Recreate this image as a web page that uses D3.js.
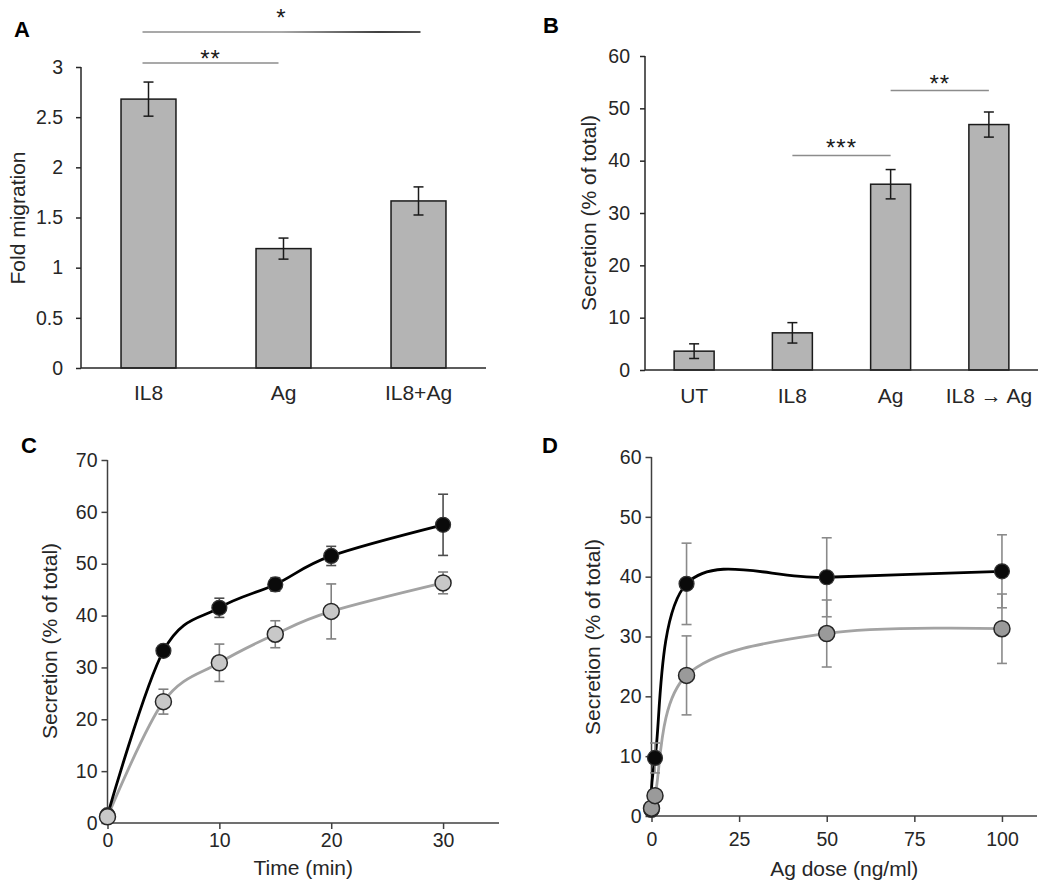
<!DOCTYPE html>
<html><head><meta charset="utf-8">
<script src="https://cdn.jsdelivr.net/npm/d3@7"></script>
<style>
body{margin:0;background:#fff}
svg{display:block}
text{font-family:"Liberation Sans",Arial,Helvetica,sans-serif;fill:#262626}
</style>
</head><body>
<svg id="chart" width="1050" height="895"></svg>
<script>
// ---------- DATA ----------
// Panel A
const catsA = ["IL8", "Ag", "IL8+Ag"];
const valsA = [2.68, 1.19, 1.665];
const errA = [0.17, 0.105, 0.14];
const yTicksA = [0, 0.5, 1, 1.5, 2, 2.5, 3];
const sigA = [
  {from: "IL8", to: "Ag", y: 3.04, label: "**"},
  {from: "IL8", to: "IL8+Ag", y: 3.35, label: "*"}
];
// Panel B
const catsB = ["UT", "IL8", "Ag", "IL8 \u2192 Ag"];
const valsB = [3.6, 7.1, 35.5, 46.9];
const errB = [1.4, 1.95, 2.8, 2.4];
const yTicksB = [0, 10, 20, 30, 40, 50, 60];
const sigB = [
  {from: "IL8", to: "Ag", y: 41, label: "***"},
  {from: "Ag", to: "IL8 \u2192 Ag", y: 53.4, label: "**"}
];
// Panel C
const timeC = [0, 5, 10, 15, 20, 30];
const blackC = [1.5, 33.2, 41.5, 46.0, 51.5, 57.5];
const blackCErr = [0.5, 0.6, 1.85, 1.3, 1.85, 5.9];
const grayC = [1.2, 23.4, 30.9, 36.4, 40.8, 46.3];
const grayCErr = [0.5, 2.4, 3.6, 2.6, 5.3, 2.1];
const xTicksC = [0, 10, 20, 30];
const yTicksC = [0, 10, 20, 30, 40, 50, 60, 70];
// Panel D
const doseD = [0, 1, 10, 50, 100];
const blackD = [1.0, 9.7, 38.8, 39.9, 40.9];
const blackDErr = [0.3, 2.5, 6.8, 6.6, 6.1];
const grayD = [1.3, 3.4, 23.5, 30.5, 31.3];
const grayDErr = [0.3, 0.5, 6.6, 5.6, 5.8];
const xTicksD = [0, 25, 50, 75, 100];
const yTicksD = [0, 10, 20, 30, 40, 50, 60];

// ---------- LAYOUT ----------
const svg = d3.select("#chart");
const AXIS = "#262626";
const TICKFONT = 19.5, CATFONT = 21, TITLEFONT = 21;

const defs = svg.append("defs");

function styleAxis(sel, color, fs) {
  sel.select(".domain").remove();
  sel.selectAll(".tick line").attr("stroke", color).attr("stroke-width", 1.5);
  sel.selectAll(".tick text").attr("font-size", fs).style("fill", "#262626");
}

function panelLetter(txt, x, y) {
  svg.append("text").attr("x", x).attr("y", y).attr("font-size", 22)
    .attr("font-weight", "bold").style("fill", "#000").text(txt);
}

function yTitle(txt, x, cy) {
  svg.append("text").attr("transform", `translate(${x},${cy}) rotate(-90)`)
    .attr("text-anchor", "middle").attr("font-size", TITLEFONT).text(txt);
}

function barPanel(o) {
  const x = d3.scaleBand().domain(o.cats).range([o.x0, o.x1])
    .paddingInner(0.593).paddingOuter(0.2965);
  const y = d3.scaleLinear().domain([0, o.ymax]).range([o.y0, o.y1]);
  const g = svg.append("g");
  g.selectAll("rect").data(o.cats).join("rect")
    .attr("x", d => x(d)).attr("width", x.bandwidth())
    .attr("y", (d, i) => y(o.vals[i])).attr("height", (d, i) => y(0) - y(o.vals[i]))
    .attr("fill", "#b4b4b4").attr("stroke", "#1a1a1a").attr("stroke-width", 1.5);
  o.cats.forEach((c, i) => {
    const cx = x(c) + x.bandwidth() / 2;
    const hi = y(o.vals[i] + o.errs[i]), lo = y(o.vals[i] - o.errs[i]);
    const eg = g.append("g").attr("stroke", "#1a1a1a").attr("stroke-width", 1.5);
    eg.append("line").attr("x1", cx).attr("x2", cx).attr("y1", hi).attr("y2", lo);
    eg.append("line").attr("x1", cx - 5).attr("x2", cx + 5).attr("y1", hi).attr("y2", hi);
    eg.append("line").attr("x1", cx - 5).attr("x2", cx + 5).attr("y1", lo).attr("y2", lo);
  });
  const ya = g.append("g").attr("transform", `translate(${o.x0},0)`)
    .call(d3.axisLeft(y).tickValues(o.yticks).tickSize(5).tickPadding(o.ypad).tickFormat(d3.format("")));
  styleAxis(ya, AXIS, TICKFONT);
  g.append("line").attr("x1", o.x0).attr("x2", o.x0).attr("y1", o.y0).attr("y2", o.y1)
    .attr("stroke", AXIS).attr("stroke-width", 1.5);
  g.append("line").attr("x1", o.x0).attr("x2", o.x1).attr("y1", o.y0).attr("y2", o.y0)
    .attr("stroke", AXIS).attr("stroke-width", 1.5);
  const xa = g.append("g").attr("transform", `translate(0,${o.y0})`)
    .call(d3.axisBottom(x).tickSize(0).tickPadding(o.xpad));
  styleAxis(xa, AXIS, CATFONT);
  o.sig.forEach((s, k) => {
    const xa1 = x(s.from) + x.bandwidth() / 2 + (o.sigOff ? o.sigOff[k][0] : 0);
    const xa2 = x(s.to) + x.bandwidth() / 2 + (o.sigOff ? o.sigOff[k][1] : 0);
    const yy = y(s.y);
    let stroke = "#8c8c8c";
    if (o.gradient && o.gradient[k]) {
      const id = "grad" + o.name + k;
      const lg = defs.append("linearGradient").attr("id", id)
        .attr("gradientUnits", "userSpaceOnUse")
        .attr("x1", xa1).attr("x2", xa2).attr("y1", yy).attr("y2", yy);
      lg.append("stop").attr("offset", "0%").attr("stop-color", "#8c8c8c");
      lg.append("stop").attr("offset", "50%").attr("stop-color", "#8c8c8c");
      lg.append("stop").attr("offset", "85%").attr("stop-color", "#000");
      lg.append("stop").attr("offset", "100%").attr("stop-color", "#1a1a1a");
      stroke = `url(#${id})`;
    }
    g.append("line").attr("x1", xa1).attr("x2", xa2).attr("y1", yy).attr("y2", yy)
      .attr("stroke", stroke).attr("stroke-width", 1.5);
    g.append("text").attr("x", (xa1 + xa2) / 2).attr("y", yy + o.starDy[k])
      .attr("text-anchor", "middle").attr("font-size", 24).style("fill", "#1a1a1a")
      .attr("letter-spacing", 1).text(s.label);
  });
}

function linePanel(o) {
  const x = d3.scaleLinear().domain([0, o.xmax]).range([o.x0, o.x1]);
  const y = d3.scaleLinear().domain([0, o.ymax]).range([o.y0, o.y1]);
  const g = svg.append("g");
  const ya = g.append("g").attr("transform", `translate(${o.x0},0)`)
    .call(d3.axisLeft(y).tickValues(o.yticks).tickSize(6).tickPadding(o.ypad));
  styleAxis(ya, o.axisColor, TICKFONT);
  const xa = g.append("g").attr("transform", `translate(0,${o.y0})`)
    .call(d3.axisBottom(x).tickValues(o.xticks).tickSize(6).tickPadding(o.xpad));
  styleAxis(xa, o.axisColor, TICKFONT);
  g.append("line").attr("x1", o.x0).attr("x2", o.x0).attr("y1", o.y0).attr("y2", o.y1)
    .attr("stroke", o.axisColor).attr("stroke-width", 1.5);
  g.append("line").attr("x1", o.x0).attr("x2", o.x1).attr("y1", o.y0).attr("y2", o.y0)
    .attr("stroke", o.axisColor).attr("stroke-width", 1.5);

  const line = d3.line().x(d => x(d[0])).y(d => y(d[1])).curve(d3.curveCardinal.tension(0));
  const ptsB = o.xs.map((v, i) => [v, o.black[i]]);
  const ptsG = o.xs.map((v, i) => [v, o.gray[i]]);
  g.append("path").attr("d", line(ptsG)).attr("fill", "none")
    .attr("stroke", "#a3a3a3").attr("stroke-width", 2.8);
  g.append("path").attr("d", line(ptsB)).attr("fill", "none")
    .attr("stroke", "#000").attr("stroke-width", 2.8);
  function errs(vals, es, color) {
    vals.forEach((v, i) => {
      const cx = x(o.xs[i]), hi = y(v + es[i]), lo = y(v - es[i]);
      const eg = g.append("g").attr("stroke", color).attr("stroke-width", 1.6);
      eg.append("line").attr("x1", cx).attr("x2", cx).attr("y1", hi).attr("y2", lo);
      eg.append("line").attr("x1", cx - 5).attr("x2", cx + 5).attr("y1", hi).attr("y2", hi);
      eg.append("line").attr("x1", cx - 5).attr("x2", cx + 5).attr("y1", lo).attr("y2", lo);
    });
  }
  errs(o.black, o.blackErr, o.blackErrColor);
  errs(o.gray, o.grayErr, o.grayErrColor);
  g.selectAll("circle.b").data(ptsB).join("circle").attr("class", "b")
    .attr("cx", d => x(d[0])).attr("cy", d => y(d[1])).attr("r", 7.5)
    .attr("fill", "#0a0a0a").attr("stroke", "#333").attr("stroke-width", 1.2);
  g.selectAll("circle.g").data(ptsG).join("circle").attr("class", "g")
    .attr("cx", d => x(d[0])).attr("cy", d => y(d[1])).attr("r", 8)
    .attr("fill", o.grayFill).attr("stroke", "#262626").attr("stroke-width", 1.5);
  svg.append("text").attr("x", (o.x0 + o.x1) / 2).attr("y", o.xTitleY)
    .attr("text-anchor", "middle").attr("font-size", TITLEFONT).text(o.xTitle);
}

// ---------- DRAW ----------
barPanel({name: "A", cats: catsA, vals: valsA, errs: errA, yticks: yTicksA, ymax: 3,
  x0: 81, x1: 486, y0: 368, y1: 67, ypad: 13, xpad: 17, sig: sigA,
  sigOff: [[-6, -5], [-6, 2]], starDy: [4, -6], gradient: [false, true]});
barPanel({name: "B", cats: catsB, vals: valsB, errs: errB, yticks: yTicksB, ymax: 60,
  x0: 645, x1: 1038, y0: 370, y1: 56, ypad: 10, xpad: 18, sig: sigB,
  sigOff: null, starDy: [1, 1], gradient: null});
linePanel({xs: timeC, black: blackC, blackErr: blackCErr, gray: grayC, grayErr: grayCErr,
  xmax: 35, ymax: 70, xticks: xTicksC, yticks: yTicksC,
  x0: 107.5, x1: 499, y0: 823, y1: 460, ypad: 4, xpad: 4, axisColor: "#404040",
  blackErrColor: "#4d4d4d", grayErrColor: "#808080", grayFill: "#c8c8c8",
  xTitle: "Time (min)", xTitleY: 875});
linePanel({xs: doseD, black: blackD, blackErr: blackDErr, gray: grayD, grayErr: grayDErr,
  xmax: 110, ymax: 60, xticks: xTicksD, yticks: yTicksD,
  x0: 651.5, x1: 1037, y0: 816, y1: 457, ypad: 4, xpad: 10, axisColor: "#404040",
  blackErrColor: "#8a8a8a", grayErrColor: "#8a8a8a", grayFill: "#9a9a9a",
  xTitle: "Ag dose (ng/ml)", xTitleY: 876});

yTitle("Fold migration", 25, 218);
yTitle("Secretion (% of total)", 596, 213);
yTitle("Secretion (% of total)", 57, 641);
yTitle("Secretion (% of total)", 600, 637);

panelLetter("A", 14, 37);
panelLetter("B", 543, 33);
panelLetter("C", 21, 453);
panelLetter("D", 542, 453);
</script>
</body></html>
